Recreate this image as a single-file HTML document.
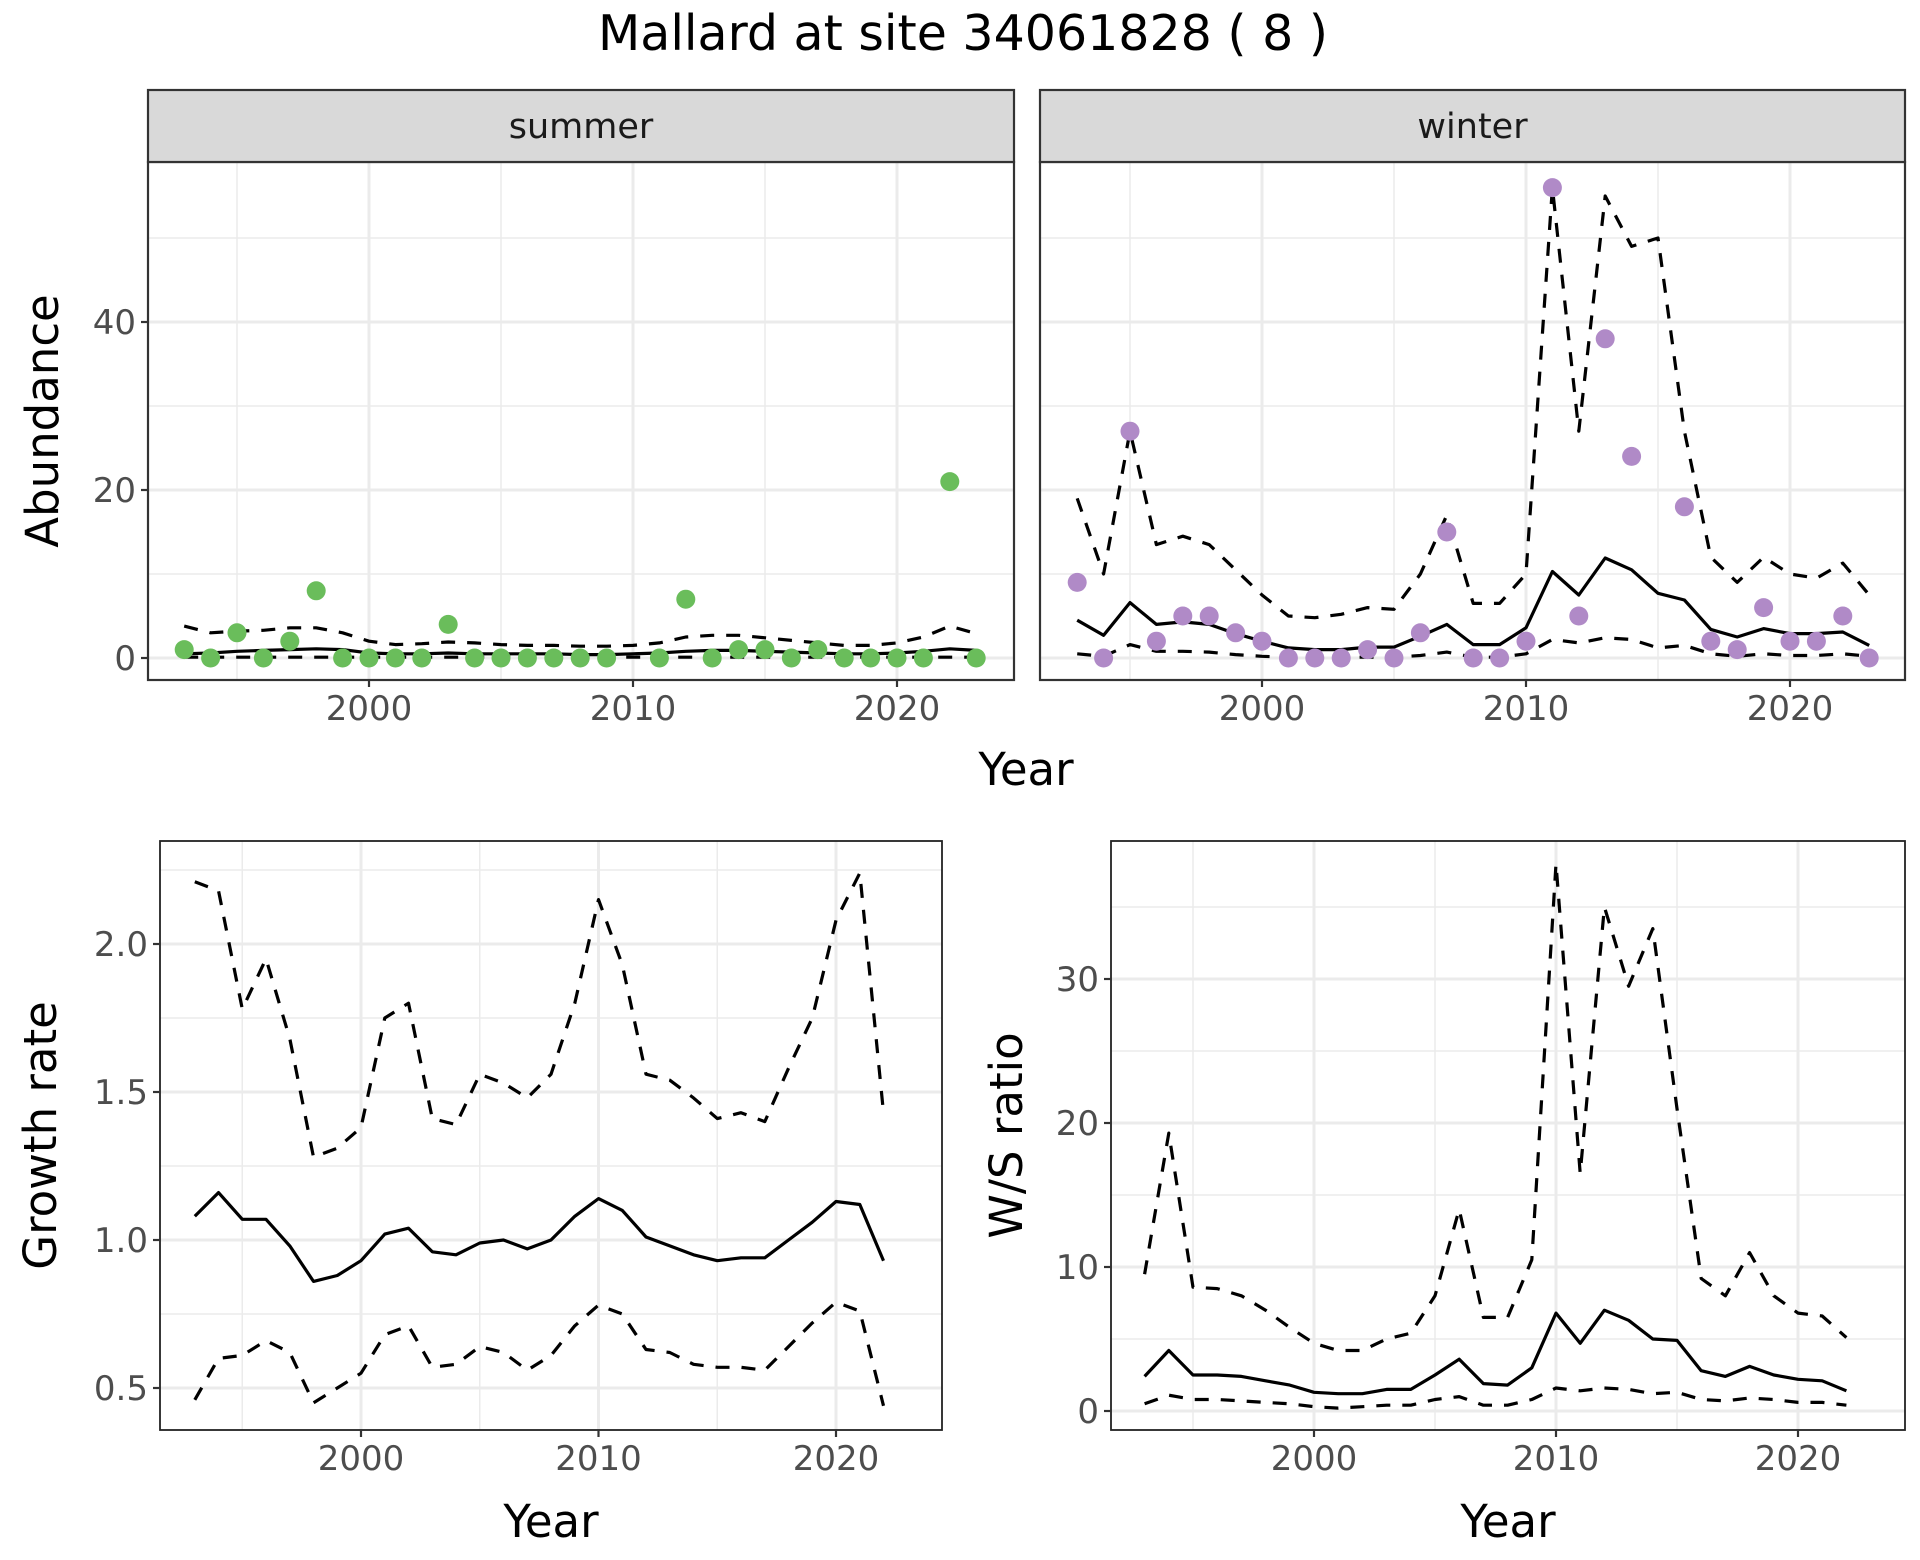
<!DOCTYPE html>
<html><head><meta charset="utf-8"><style>
body{margin:0;background:#fff}
svg{display:block;font-family:"DejaVu Sans","Liberation Sans",sans-serif}
</style></head><body>
<svg id="chart" width="1920" height="1560" viewBox="0 0 1920 1560" xmlns="http://www.w3.org/2000/svg">
<rect width="1920" height="1560" fill="#fff"/>
<text x="963" y="50" font-size="49" text-anchor="middle" fill="#000">Mallard at site 34061828 ( 8 )</text>
</svg>
<script>
const yearsA = [1993,1994,1995,1996,1997,1998,1999,2000,2001,2002,2003,2004,2005,2006,2007,2008,2009,2010,2011,2012,2013,2014,2015,2016,2017,2018,2019,2020,2021,2022,2023];
const summerObs = [1,0,3,0,2,8,0,0,0,0,4,0,0,0,0,0,0,null,0,7,0,1,1,0,1,0,0,0,0,21,0];
const summerMean = [0.5,0.6,0.8,0.9,1.0,1.1,1.0,0.6,0.5,0.5,0.6,0.5,0.5,0.5,0.5,0.4,0.4,0.5,0.6,0.8,0.9,0.9,0.8,0.7,0.6,0.5,0.5,0.6,0.8,1.1,0.9];
const summerUpper = [3.8,3.0,3.2,3.3,3.6,3.6,3.0,2.0,1.6,1.7,1.9,1.8,1.6,1.5,1.5,1.4,1.4,1.5,1.8,2.5,2.7,2.7,2.4,2.1,1.8,1.5,1.5,1.8,2.5,3.8,2.9];
const summerLower = [0.1,0.1,0.1,0.1,0.1,0.1,0.1,0.1,0.1,0.1,0.1,0.1,0.1,0.1,0.1,0.1,0.1,0.1,0.1,0.1,0.1,0.1,0.1,0.1,0.1,0.1,0.1,0.1,0.1,0.1,0.1];
const winterObs = [9,0,27,2,5,5,3,2,0,0,0,1,0,3,15,0,0,2,56,5,38,24,null,18,2,1,6,2,2,5,0];
const winterMean = [4.5,2.7,6.6,4.0,4.3,4.0,2.9,2.0,1.2,1.0,1.0,1.3,1.3,2.6,4.0,1.6,1.6,3.6,10.3,7.5,11.9,10.5,7.7,6.9,3.4,2.5,3.5,2.9,2.9,3.1,1.5];
const winterUpper = [19,10,27,13.5,14.5,13.5,10.5,7.5,5,4.8,5.2,6,5.8,10,17,6.5,6.5,10,56,27,55,49,50,27,12,9,12,10,9.5,11.3,7.5];
const winterLower = [0.5,0.2,1.6,0.8,0.8,0.7,0.4,0.2,0.1,0.1,0.1,0.1,0.1,0.3,0.7,0.1,0.1,0.5,2.2,1.8,2.4,2.2,1.2,1.5,0.5,0.2,0.5,0.3,0.3,0.5,0.2];
const yearsB = [1993,1994,1995,1996,1997,1998,1999,2000,2001,2002,2003,2004,2005,2006,2007,2008,2009,2010,2011,2012,2013,2014,2015,2016,2017,2018,2019,2020,2021,2022];
const growthMean = [1.08,1.16,1.07,1.07,0.98,0.86,0.88,0.93,1.02,1.04,0.96,0.95,0.99,1.0,0.97,1.0,1.08,1.14,1.10,1.01,0.98,0.95,0.93,0.94,0.94,1.0,1.06,1.13,1.12,0.93];
const growthUpper = [2.21,2.18,1.78,1.95,1.68,1.28,1.31,1.38,1.75,1.80,1.41,1.39,1.56,1.53,1.48,1.56,1.80,2.15,1.93,1.56,1.54,1.48,1.41,1.43,1.40,1.58,1.75,2.08,2.24,1.43];
const growthLower = [0.46,0.60,0.61,0.66,0.62,0.45,0.50,0.55,0.68,0.71,0.57,0.58,0.64,0.62,0.56,0.61,0.71,0.78,0.75,0.63,0.62,0.58,0.57,0.57,0.56,0.64,0.72,0.79,0.76,0.44];
const wsMean = [2.4,4.2,2.5,2.5,2.4,2.1,1.8,1.3,1.2,1.2,1.5,1.5,2.5,3.6,1.9,1.8,3.0,6.8,4.7,7.0,6.3,5.0,4.9,2.8,2.4,3.1,2.5,2.2,2.1,1.4];
const wsUpper = [9.5,19.3,8.6,8.5,8.0,7.0,5.8,4.7,4.2,4.2,5.0,5.4,8.0,14.0,6.5,6.5,10.5,38,16.5,35,29.5,33.5,21,9.2,8,11,8,6.8,6.6,5.1];
const wsLower = [0.5,1.1,0.8,0.8,0.7,0.6,0.5,0.3,0.2,0.3,0.4,0.4,0.8,1.0,0.4,0.4,0.8,1.6,1.4,1.6,1.5,1.2,1.3,0.8,0.7,0.9,0.8,0.6,0.6,0.4];
const xTicks = [2000,2010,2020];
const xMinor = [1995,2005,2015];
const abTicks = [0,20,40];
const abMinor = [10,30,50];
const grTicks = [0.5,1.0,1.5,2.0];
const grTickLabels = ["0.5","1.0","1.5","2.0"];
const grMinor = [0.75,1.25,1.75,2.25];
const wsTicks = [0,10,20,30];
const wsMinor = [5,15,25,35];

const NS="http://www.w3.org/2000/svg";
const svg=document.getElementById('chart');
function el(tag,attrs,parent){const e=document.createElementNS(NS,tag);for(const k in attrs)e.setAttribute(k,attrs[k]);(parent||svg).appendChild(e);return e;}
function lin(d0,d1,r0,r1){return v=>r0+(v-d0)*(r1-r0)/(d1-d0);}

function panel(o){
  const g=el('g',{});
  
  
  const x=lin(o.xd[0],o.xd[1],o.xr[0],o.xr[1]);
  const y=lin(o.yd[0],o.yd[1],o.yr[0],o.yr[1]);
  const L=o.box[0],T=o.box[1],R=o.box[2],B=o.box[3];
  el('rect',{x:L,y:T,width:R-L,height:B-T,fill:'#fff'},g);
  o.yMinor.forEach(v=>{const yy=y(v);if(yy>T&&yy<B){const l=el('line',{x1:L,x2:R,y1:yy,y2:yy,stroke:'#ebebeb','stroke-width':1.5},g);}});
  xMinor.forEach(v=>{const l=el('line',{x1:x(v),x2:x(v),y1:T,y2:B,stroke:'#ebebeb','stroke-width':1.5},g);});
  o.yTicks.forEach(v=>{const l=el('line',{x1:L,x2:R,y1:y(v),y2:y(v),stroke:'#ebebeb','stroke-width':3},g);});
  xTicks.forEach(v=>{const l=el('line',{x1:x(v),x2:x(v),y1:T,y2:B,stroke:'#ebebeb','stroke-width':3},g);});
  function path(xs,vs){let d='',pen=false;vs.forEach((v,i)=>{if(v==null){pen=false;return;}d+=(pen?'L':'M')+x(xs[i]).toFixed(1)+','+y(v).toFixed(1);pen=true;});return d;}
  o.lines.forEach(ln=>{const p=el('path',{d:path(o.years,ln.v),fill:'none',stroke:'#000','stroke-width':3.2,'stroke-linejoin':'round'},g);if(ln.dash)p.setAttribute('stroke-dasharray','14,12');});
  if(o.pts){o.pts.forEach((v,i)=>{if(v==null)return;const c=el('circle',{cx:x(o.years[i]),cy:y(v),r:9.5,fill:o.color},g);});}
  el('rect',{x:L,y:T,width:R-L,height:B-T,fill:'none',stroke:o.strip?'#333':'#222','stroke-width':o.strip?2.2:1.8},g);
  if(o.strip){const s=el('rect',{x:L,y:o.strip[1],width:R-L,height:T-o.strip[1],fill:'#d9d9d9',stroke:'#333','stroke-width':2.2},g);
    const t=el('text',{x:(L+R)/2,y:(T+o.strip[1])/2+12,'font-size':35,'text-anchor':'middle',fill:'#1a1a1a'},g);t.textContent=o.strip[0];}
  xTicks.forEach(v=>{el('line',{x1:x(v),x2:x(v),y1:B,y2:B+7,stroke:'#333','stroke-width':2.2},g);const t=el('text',{x:x(v),y:B+40,'font-size':34,'text-anchor':'middle',fill:'#4d4d4d'},g);t.textContent=String(v);});
  if(o.yLabels){o.yTicks.forEach((v,i)=>{el('line',{x1:L-7,x2:L,y1:y(v),y2:y(v),stroke:'#333','stroke-width':2.2},g);const t=el('text',{x:L-12,y:y(v)+12,'font-size':34,'text-anchor':'end',fill:'#4d4d4d'},g);t.textContent=o.yLabels[i];});}
  if(o.xTitle){const t=el('text',{x:(L+R)/2,y:o.xTitleY,'font-size':45,'text-anchor':'middle',fill:'#000'},g);t.textContent=o.xTitle;}
  if(o.yTitle){const t=el('text',{x:0,y:0,'font-size':45,'text-anchor':'middle',fill:'#000',transform:`translate(${o.yTitleX},${(T+B)/2}) rotate(-90)`},g);t.textContent=o.yTitle;}
}

panel({name:'summer-panel',box:[148,162,1014,680],strip:['summer',90],xd:[2000,2020],xr:[369,897],yd:[0,40],yr:[658,322],years:yearsA,
  yTicks:abTicks,yMinor:abMinor,yLabels:abTicks.map(String),yTitle:'Abundance',yTitleX:58,color:'#6abd5b',pts:summerObs,
  lines:[{v:summerUpper,dash:1,name:'summer-upper-ci'},{v:summerLower,dash:1,name:'summer-lower-ci'},{v:summerMean,name:'summer-mean-line'}]});
panel({name:'winter-panel',box:[1040,162,1905,680],strip:['winter',90],xd:[2000,2020],xr:[1262,1790],yd:[0,40],yr:[658,322],years:yearsA,
  yTicks:abTicks,yMinor:abMinor,color:'#b08ac7',pts:winterObs,
  lines:[{v:winterUpper,dash:1,name:'winter-upper-ci'},{v:winterLower,dash:1,name:'winter-lower-ci'},{v:winterMean,name:'winter-mean-line'}]});
const yr=el('text',{x:1026,y:785,'font-size':45,'text-anchor':'middle',fill:'#000'});yr.textContent='Year';


panel({name:'growth-rate-panel',box:[160,841,942,1430],xd:[2000,2020],xr:[361,836],yd:[0.5,2.0],yr:[1388,944],years:yearsB,
  yTicks:grTicks,yMinor:grMinor,yLabels:grTickLabels,yTitle:'Growth rate',yTitleX:56,xTitle:'Year',xTitleY:1537,
  lines:[{v:growthUpper,dash:1,name:'growth-upper-ci'},{v:growthLower,dash:1,name:'growth-lower-ci'},{v:growthMean,name:'growth-mean-line'}]});
panel({name:'ws-ratio-panel',box:[1111,841,1905,1430],xd:[2000,2020],xr:[1314,1798],yd:[0,30],yr:[1411,979],years:yearsB,
  yTicks:wsTicks,yMinor:wsMinor,yLabels:wsTicks.map(String),yTitle:'W/S ratio',yTitleX:1022,xTitle:'Year',xTitleY:1537,
  lines:[{v:wsUpper,dash:1,name:'ws-upper-ci'},{v:wsLower,dash:1,name:'ws-lower-ci'},{v:wsMean,name:'ws-mean-line'}]});
</script>
</body></html>
